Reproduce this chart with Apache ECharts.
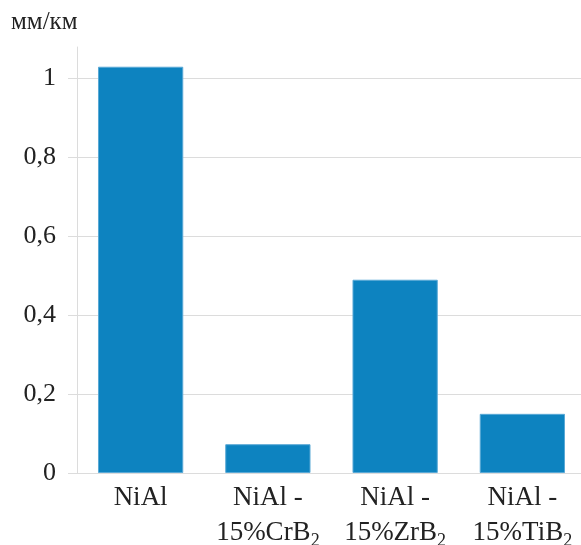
<!DOCTYPE html>
<html><head><meta charset="utf-8">
<script src="https://cdn.jsdelivr.net/npm/echarts@6/dist/echarts.min.js"></script>
<style>html,body{margin:0;padding:0;background:#fff}#c{width:581px;height:545px}</style>
</head><body><div id="c"></div>
<script>
const categories = ['NiAl', 'NiAl -\n15%CrB{s|2}', 'NiAl -\n15%ZrB{s|2}', 'NiAl -\n15%TiB{s|2}'];
const values = [1.03, 0.073, 0.49, 0.15];
const yTicks = [0, 0.2, 0.4, 0.6, 0.8, 1];
const unitLabel = 'мм/км';

const font = 'Liberation Serif';
const chart = echarts.init(document.getElementById('c'));
chart.setOption({
  animation: false,
  grid: {left: 77, right: -5, top: 47, bottom: 72, containLabel: false, outerBoundsMode: 'none'},
  title: {text: unitLabel, left: 11, top: 10, padding: 0, textStyle: {fontFamily: font, fontSize: 25, fontWeight: 'normal', color: '#222'}},
  xAxis: {
    type: 'category', data: categories,
    axisLine: {show: false}, axisTick: {show: false},
    axisLabel: {
      interval: 0,
      fontFamily: font, fontSize: 27, color: '#222', margin: 7, lineHeight: 35,
      rich: {
        s: {fontFamily: font, fontSize: 18, color: '#222', verticalAlign: 'bottom', lineHeight: 17}
      }
    }
  },
  yAxis: {
    type: 'value', min: 0, max: 1.08, interval: 0.2,
    axisLine: {show: true, lineStyle: {color: '#dcdcdc', width: 1}},
    axisTick: {show: true, length: 9, lineStyle: {color: '#dcdcdc'}},
    splitLine: {show: true, lineStyle: {color: ['#dcdcdc','#dcdcdc','#dcdcdc','#dcdcdc','#dcdcdc','#dcdcdc','rgba(0,0,0,0)']}},
    axisLabel: {
      fontFamily: font, fontSize: 26, color: '#222', margin: 21,
      showMaxLabel: false,
      formatter: v => yTicks.some(t => Math.abs(t - v) < 1e-9) ? String(Math.round(v * 10) / 10).replace('.', ',') : ''
    }
  },
  series: [{
    type: 'bar', data: values, barWidth: '67%',
    itemStyle: {color: '#0d83c0', borderColor: '#5aa9d6', borderWidth: 1}
  }]
});
</script></body></html>
